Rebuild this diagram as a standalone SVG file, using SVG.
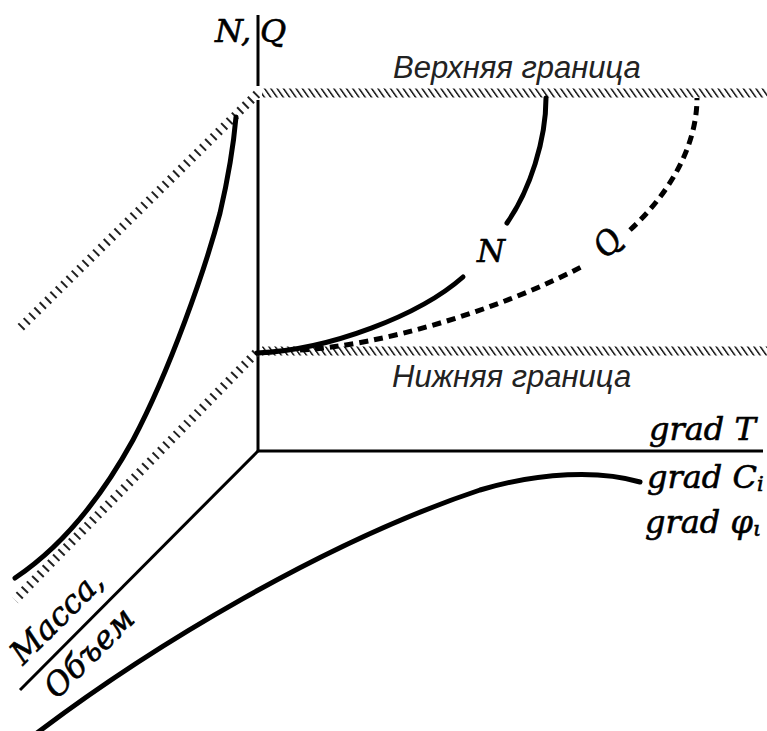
<svg xmlns="http://www.w3.org/2000/svg" width="767" height="731" viewBox="0 0 767 731">
  <style>
    .axis { stroke: #000; stroke-width: 3; fill: none; stroke-linecap: butt; }
    .curve { stroke: #000; stroke-width: 5; fill: none; stroke-linecap: round; }
    .dash { stroke: #000; stroke-width: 5; fill: none; stroke-dasharray: 9 6; stroke-linecap: butt; }
    .hatchD { stroke: #222; stroke-width: 9; stroke-dasharray: 2 5.5; fill: none; }
    .sans { font-family: "Liberation Sans", Arial, sans-serif; font-style: italic; font-size: 31px; fill: #222; }
    .serif { font-family: "DejaVu Serif", "Liberation Serif", serif; font-style: italic; font-size: 32px; fill: #000; stroke: #000; stroke-width: 0.6; }
  </style>
  <defs>
    <pattern id="hatchH" patternUnits="userSpaceOnUse" width="6.3" height="20" patternTransform="skewX(35)">
      <rect x="0" y="0" width="2" height="20" fill="#222"/>
    </pattern>
  </defs>
  <rect width="767" height="731" fill="#fff"/>

  <g id="axes">
    <line class="axis" x1="258" y1="15" x2="258" y2="451"/>
    <line class="axis" x1="257" y1="451" x2="763" y2="451"/>
    <line class="axis" x1="258" y1="451" x2="20" y2="690" stroke-width="2.7"/>
  </g>

  <g id="hatches">
    <line x1="258" y1="86" x2="258" y2="100" stroke="#fff" stroke-width="5"/>
    <rect x="262" y="88.5" width="505" height="9" fill="url(#hatchH)"/>
    <rect x="262" y="346.5" width="505" height="9" fill="url(#hatchH)"/>
    <line class="hatchD" x1="257" y1="94" x2="18" y2="330"/>
    <line class="hatchD" x1="256" y1="353" x2="15" y2="600"/>
  </g>

  <g id="curves">
    <path id="left-curve" class="curve" d="M15,578 C60,548 100,500 133,440 C170,370 205,270 220,213 C230,170 234,140 236,117"/>
    <path id="N-curve-a" class="curve" d="M257,353 C330,350 420,315 463,277"/>
    <path id="N-curve-b" class="curve" d="M507,223 C530,190 546,140 546,98"/>
    <path id="Q-curve-a" class="dash" d="M300,350 C380,346 500,310 585,265"/>
    <path id="Q-curve-b" class="dash" d="M630,230 C665,198 697,150 697,98" stroke-dasharray="8 7"/>
    <path id="bottom-curve" class="curve" d="M20,746 C150,645 330,540 480,490 C540,472 600,470 640,482"/>
  </g>

  <g id="labels">
    <text class="sans" x="393" y="78">Верхняя граница</text>
    <text class="sans" x="392" y="387">Нижняя граница</text>
    <text class="serif" x="215" y="42" font-size="33">N,<tspan x="260">Q</tspan></text>
    <text class="serif" x="477" y="262">N</text>
    <text class="serif" x="0" y="0" text-anchor="middle" transform="translate(616,250) rotate(-50)" font-size="35">Q</text>
    <text class="serif" x="649" y="440">grad T</text>
    <text class="serif" x="647" y="488">grad C<tspan font-size="21" dy="3">i</tspan></text>
    <text class="serif" x="645" y="533">grad φ<tspan font-size="21" dy="3">ι</tspan></text>
    <text class="serif" transform="translate(23,666) rotate(-45)">Масса,</text>
    <text class="serif" transform="translate(57,700) rotate(-45)">Объем</text>
  </g>
</svg>
